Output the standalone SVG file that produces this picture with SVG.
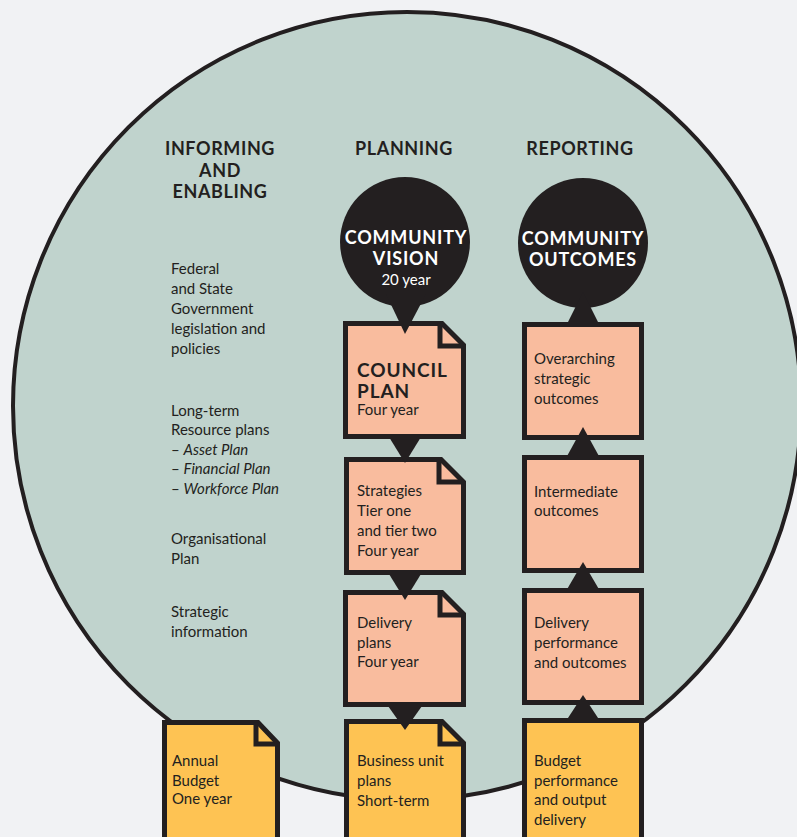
<svg xmlns="http://www.w3.org/2000/svg" width="797" height="837" viewBox="0 0 797 837">
<style>
text{font-family:Lato,"Open Sans","Liberation Sans",sans-serif;fill:#231f20;font-size:15px}
.h{font-weight:bold;font-size:18px;letter-spacing:0.6px;text-anchor:middle}
.w{fill:#ffffff;font-weight:bold;font-size:18px;letter-spacing:0.8px;text-anchor:middle}
.ws{fill:#ffffff;font-size:15px;text-anchor:middle}
.b{font-weight:bold;font-size:19px;letter-spacing:0.9px}
.i{font-style:italic}
.peach{fill:#f9bc9e;stroke:#231f20;stroke-width:5;stroke-linejoin:miter}
.yel{fill:#fec353;stroke:#231f20;stroke-width:5;stroke-linejoin:miter}
.fold{fill:none;stroke:#231f20;stroke-width:5}
.dark{fill:#231f20}
</style>
<rect x="0" y="0" width="797" height="837" fill="#f1f2f4"/>
<circle id="bigcircle" cx="407" cy="406" r="394" fill="#c0d3cd" stroke="#231f20" stroke-width="4"/>

<g id="headings">
<text class="h" x="220" y="155">INFORMING</text>
<text class="h" x="220" y="177">AND</text>
<text class="h" x="220" y="198">ENABLING</text>
<text class="h" x="404" y="155">PLANNING</text>
<text class="h" x="580" y="155">REPORTING</text>
</g>

<g id="informing-text">
<text x="171" y="274">Federal</text>
<text x="171" y="294">and State</text>
<text x="171" y="314">Government</text>
<text x="171" y="334">legislation and</text>
<text x="171" y="354">policies</text>
<text x="171" y="416">Long-term</text>
<text x="171" y="435">Resource plans</text>
<text x="171" y="455">– <tspan class="i">Asset Plan</tspan></text>
<text x="171" y="474">– <tspan class="i">Financial Plan</tspan></text>
<text x="171" y="494">– <tspan class="i">Workforce Plan</tspan></text>
<text x="171" y="544">Organisational</text>
<text x="171" y="564">Plan</text>
<text x="171" y="617">Strategic</text>
<text x="171" y="637">information</text>
</g>

<g id="community-vision">
<circle cx="405" cy="242" r="65" class="dark"/>
<text class="w" x="406" y="244">COMMUNITY</text>
<text class="w" x="406" y="265">VISION</text>
<text class="ws" x="406" y="285">20 year</text>
</g>

<g id="community-outcomes">
<circle cx="583" cy="243" r="65" class="dark"/>
<text class="w" x="583" y="245">COMMUNITY</text>
<text class="w" x="583" y="266">OUTCOMES</text>
</g>

<g id="council-plan">
<path class="peach" d="M345.5,323.5 H442 L463.5,345 V436.5 H345.5 Z"/>
<path class="fold" d="M440,323.5 V346 H463.5"/>
<text class="b" x="357" y="377">COUNCIL</text>
<text class="b" x="357" y="398">PLAN</text>
<text x="357" y="415">Four year</text>
</g>

<g id="strategies">
<path class="peach" d="M346.5,459.5 H441 L463.5,482 V572.5 H346.5 Z"/>
<path class="fold" d="M439,459.5 V482 H463.5"/>
<text x="357" y="496">Strategies</text>
<text x="357" y="516">Tier one</text>
<text x="357" y="536">and tier two</text>
<text x="357" y="556">Four year</text>
</g>

<g id="delivery-plans">
<path class="peach" d="M345.5,592.5 H442 L463.5,614 V704.5 H345.5 Z"/>
<path class="fold" d="M440,592.5 V615 H463.5"/>
<text x="357" y="628">Delivery</text>
<text x="357" y="648">plans</text>
<text x="357" y="667">Four year</text>
</g>

<g id="business-unit-plans">
<path class="yel" d="M346.5,721.5 H442 L463.5,743 V850 H346.5 Z"/>
<path class="fold" d="M440,721.5 V744 H463.5"/>
<text x="357" y="766">Business unit</text>
<text x="357" y="786">plans</text>
<text x="357" y="806">Short-term</text>
</g>

<g id="annual-budget">
<path class="yel" d="M164.5,722.5 H258 L277.5,743 V850 H164.5 Z"/>
<path class="fold" d="M256,722.5 V744 H277.5"/>
<text x="172" y="766">Annual</text>
<text x="172" y="786">Budget</text>
<text x="172" y="804">One year</text>
</g>

<g id="overarching-outcomes">
<rect class="peach" x="524.5" y="324.5" width="117" height="113"/>
<text x="534" y="364">Overarching</text>
<text x="534" y="384">strategic</text>
<text x="534" y="404">outcomes</text>
</g>

<g id="intermediate-outcomes">
<rect class="peach" x="524.5" y="457.5" width="117" height="113"/>
<text x="534" y="497">Intermediate</text>
<text x="534" y="516">outcomes</text>
</g>

<g id="delivery-performance">
<rect class="peach" x="524.5" y="590.5" width="117" height="112"/>
<text x="534" y="628">Delivery</text>
<text x="534" y="648">performance</text>
<text x="534" y="668">and outcomes</text>
</g>

<g id="budget-performance">
<rect class="yel" x="524.5" y="720.5" width="117" height="130"/>
<text x="534" y="766">Budget</text>
<text x="534" y="786">performance</text>
<text x="534" y="805">and output</text>
<text x="534" y="825">delivery</text>
</g>

<g id="connectors" class="dark">
<polygon points="386,294 426,294 405,334"/>
<polygon points="389,437 421,437 405,463"/>
<polygon points="389,574 421,574 405,600"/>
<polygon points="388,706 422,706 405,730"/>
<polygon points="567,324 599,324 583,292"/>
<polygon points="566,458 600,458 583,427"/>
<polygon points="566,591 600,591 583,562"/>
<polygon points="566,721 600,721 583,695"/>
</g>
</svg>
